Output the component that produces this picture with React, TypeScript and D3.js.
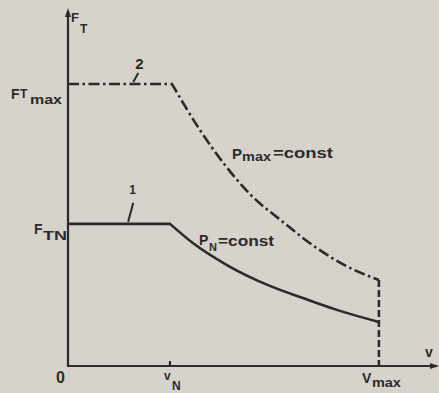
import React from "react";
import * as d3 from "d3";

// Traction characteristic F_T(v) of a drive, in relative units (v_N = 1, F_Tmax = 1)
const speedMax = [0, 1.02, 1.294, 1.539, 1.784, 2.108, 2.441, 2.765, 3.05];
const forceMax = [1, 1, 0.837, 0.713, 0.61, 0.511, 0.418, 0.348, 0.305];

const speedNominal = [0, 1, 1.225, 1.559, 1.98, 2.304, 2.637, 3.05];
const forceNominal = [0.504, 0.504, 0.436, 0.358, 0.284, 0.241, 0.199, 0.156];

const vN = 1;
const vMax = 3.05;
const fTN = 0.504;
const fTMax = 1;

const W = 439;
const H = 393;
const INK = "#2c2b2a";
const PAPER = "#d7d2cb";
const FONT = "'Liberation Sans', Arial, sans-serif";

export default function App() {
  const x = d3.scaleLinear().domain([0, 3.62]).range([68, 437]);
  const y = d3.scaleLinear().domain([0, 1]).range([366, 84]);

  const x0 = x(0);
  const y0 = y(0);
  const yTop = y(1.255);
  const xEnd = x(3.62);

  const linePath = (vs: number[], fs: number[]) => {
    const pts: [number, number][] = vs.map((v, i) => [x(v), y(fs[i])]);
    const flat = d3.line().curve(d3.curveLinear)(pts.slice(0, 2)) || "";
    const fall = d3.line().curve(d3.curveMonotoneX)(pts.slice(1)) || "";
    return flat + fall.replace(/^M/, "L");
  };

  const curve2 = linePath(speedMax, forceMax);
  const curve1 = linePath(speedNominal, forceNominal);
  const fEndMax = forceMax[forceMax.length - 1];

  const txt = { fontFamily: FONT, fontWeight: 700, fill: INK } as const;

  return (
    <div style={{ position: "fixed", left: 0, top: 0 }}>
      <svg width={W} height={H} viewBox={`0 0 ${W} ${H}`}>
        <rect width={W} height={H} fill={PAPER} />

        {/* axes */}
        <g stroke={INK} strokeWidth={2.2} fill="none">
          <line x1={x0} y1={y0 + 1} x2={x0} y2={yTop} />
          <line x1={x0 - 1} y1={y0} x2={xEnd} y2={y0} />
          <line x1={x(vN)} y1={y0} x2={x(vN)} y2={y0 - 5} />
        </g>
        <path d={`M${x0},${yTop - 4} L${x0 - 3},${yTop + 5} L${x0 + 3},${yTop + 5} Z`} fill={INK} />
        <path d={`M${xEnd + 2},${y0} L${xEnd - 7},${y0 - 3} L${xEnd - 7},${y0 + 3} Z`} fill={INK} />

        {/* curve 2: maximum force, P_max = const */}
        <path d={curve2} fill="none" stroke={INK} strokeWidth={2.6} strokeDasharray="11 3.5 2.5 3.5" />
        <line
          x1={x(vMax)} y1={y(fEndMax)} x2={x(vMax)} y2={y0}
          stroke={INK} strokeWidth={2.6} strokeDasharray="7 3"
        />

        {/* curve 1: nominal force, P_N = const */}
        <path d={curve1} fill="none" stroke={INK} strokeWidth={2.6} />

        {/* curve number leaders */}
        <g stroke={INK} strokeWidth={2}>
          <line x1={x(0.64)} y1={y(fTMax) - 2} x2={x(0.69)} y2={y(fTMax) - 11} />
          <line x1={x(0.59)} y1={y(fTN) - 2} x2={x(0.64)} y2={y(fTN) - 21} />
        </g>
        <text {...txt} x={x(0.66)} y={y(fTMax) - 15} fontSize={15}>2</text>
        <text {...txt} x={x(0.6)} y={y(fTN) - 30} fontSize={12}>1</text>

        {/* y axis labels */}
        <text {...txt} x={71} y={22} fontSize={13}>F</text>
        <text {...txt} x={80} y={33} fontSize={12}>T</text>

        <text {...txt} x={11} y={y(fTMax) + 15} fontSize={14}>F</text>
        <text {...txt} x={20} y={y(fTMax) + 14} fontSize={12}>T</text>
        <text {...txt} x={30} y={y(fTMax) + 20} fontSize={13} textLength={32} lengthAdjust="spacingAndGlyphs">max</text>

        <text {...txt} x={34} y={y(fTN) + 10} fontSize={14}>F</text>
        <text {...txt} x={43} y={y(fTN) + 16} fontSize={13} textLength={24} lengthAdjust="spacingAndGlyphs">TN</text>

        {/* x axis labels */}
        <text {...txt} x={56} y={y0 + 17} fontSize={16}>0</text>
        <text {...txt} x={x(vN) - 6} y={y0 + 14} fontSize={12}>v</text>
        <text {...txt} x={x(vN) + 2} y={y0 + 24} fontSize={12}>N</text>
        <text {...txt} x={x(vMax) - 17} y={y0 + 17} fontSize={14}>V</text>
        <text {...txt} x={x(vMax) - 7} y={y0 + 21} fontSize={12} textLength={29} lengthAdjust="spacingAndGlyphs">max</text>
        <text {...txt} x={xEnd - 12} y={y0 - 9} fontSize={14}>v</text>

        {/* power labels */}
        <text {...txt} x={232} y={159} fontSize={15}>P</text>
        <text {...txt} x={242} y={161} fontSize={12} textLength={29} lengthAdjust="spacingAndGlyphs">max</text>
        <text {...txt} x={273} y={158} fontSize={14} textLength={60} lengthAdjust="spacingAndGlyphs">=const</text>

        <text {...txt} x={199} y={245} fontSize={14}>P</text>
        <text {...txt} x={209} y={251} fontSize={11}>N</text>
        <text {...txt} x={218} y={246} fontSize={14} textLength={56} lengthAdjust="spacingAndGlyphs">=const</text>
      </svg>
    </div>
  );
}
